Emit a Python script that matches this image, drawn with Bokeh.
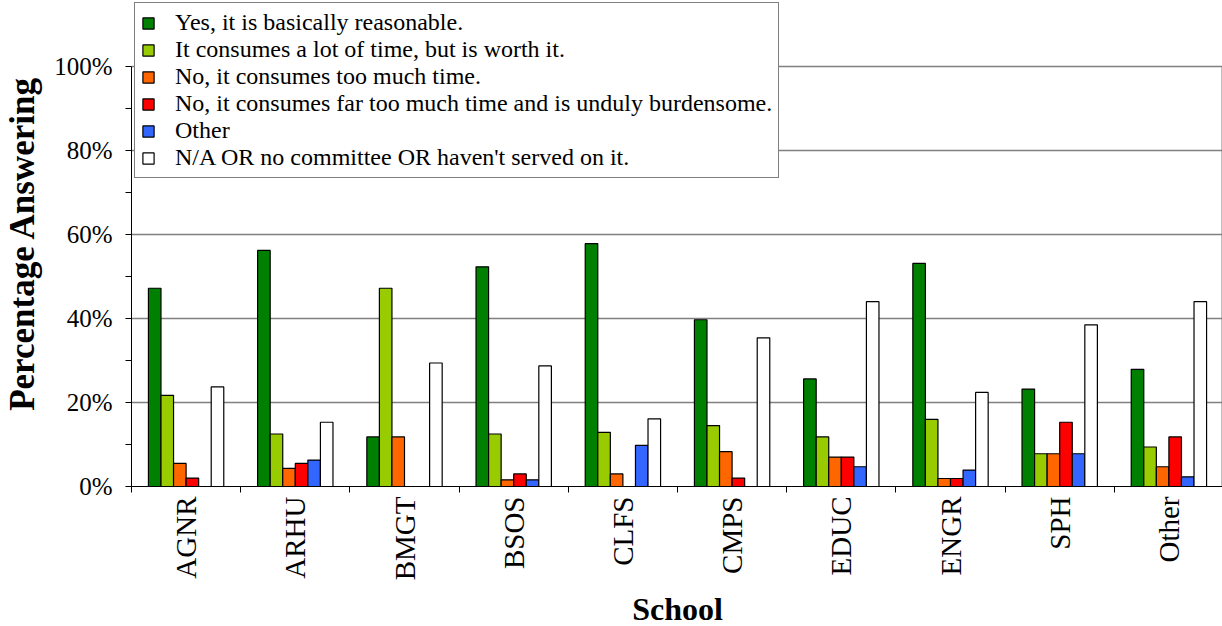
import math
from bokeh.plotting import figure
from bokeh.models import (Range1d, LinearAxis, FixedTicker, PrintfTickFormatter,
                          Legend, LegendItem, ColumnDataSource)
from bokeh.transform import dodge
from bokeh.embed import file_html
from bokeh.resources import INLINE

schools = ["AGNR", "ARHU", "BMGT", "BSOS", "CLFS", "CMPS", "EDUC", "ENGR", "SPH", "Other"]
reasonable = [47.2, 56.2, 11.8, 52.3, 57.8, 39.7, 25.6, 53.1, 23.2, 27.9]
worth_it = [21.7, 12.5, 47.2, 12.5, 12.9, 14.5, 11.8, 16.0, 7.8, 9.4]
too_much = [5.5, 4.3, 11.8, 1.6, 3.0, 8.3, 7.0, 1.9, 7.8, 4.7]
far_too_much = [2.0, 5.5, 0.0, 3.0, 0.0, 2.0, 7.0, 1.9, 15.3, 11.8]
other_answer = [0.0, 6.3, 0.0, 1.6, 9.8, 0.0, 4.7, 3.9, 7.8, 2.3]
not_applicable = [23.7, 15.3, 29.4, 28.7, 16.1, 35.4, 44.0, 22.4, 38.5, 44.0]

series_labels = [
    "Yes, it is basically reasonable.",
    "It consumes a lot of time, but is worth it.",
    "No, it consumes too much time.",
    "No, it consumes far too much time and is unduly burdensome.",
    "Other",
    "N/A OR no committee OR haven't served on it.",
]
series_keys = ["reasonable", "worth_it", "too_much", "far_too_much", "other_answer", "not_applicable"]
colors = ["#008000", "#99CC00", "#FF6600", "#FF0000", "#3366FF", "#FFFFFF"]
y_ticks = [0, 20, 40, 60, 80, 100]
y_minor = [10, 30, 50, 70, 90]

n = len(schools)
centers = [i + 0.5 for i in range(n)]          # category slots on the x scale
boundaries = list(range(n + 1))                # tick marks between categories

source = ColumnDataSource(data=dict(
    school=schools, pos=centers, reasonable=reasonable, worth_it=worth_it, too_much=too_much,
    far_too_much=far_too_much, other_answer=other_answer, not_applicable=not_applicable,
))

FONT = "Liberation Serif"
y_top = 115.7   # headroom above 100% so the legend can sit above the plot box

p = figure(x_range=Range1d(0, n), y_range=Range1d(0, y_top),
           frame_width=1092, frame_height=486, min_border_left=128, min_border_right=2,
           min_border_top=0, min_border_bottom=0,
           output_backend="svg", toolbar_location=None, x_axis_location=None)

bar_w = 0.115
renderers = []
for i, (key, col) in enumerate(zip(series_keys, colors)):
    r = p.vbar(x=dodge("pos", (i - 2.5) * bar_w), top=key, width=bar_w,
               source=source, fill_color=col, line_color="#000000", line_width=1.2)
    renderers.append(r)

# right border of the plot box
p.segment(x0=[boundaries[-1]], y0=[y_ticks[0]], x1=[boundaries[-1]], y1=[y_ticks[-1]],
          line_color="#808080", line_width=4)

# tick marks between categories
tick_axis = LinearAxis(ticker=FixedTicker(ticks=boundaries),
                       major_label_overrides={b: "" for b in boundaries},
                       major_label_text_font_size="1px", major_label_standoff=0,
                       major_tick_out=6, major_tick_in=0, minor_tick_out=0, minor_tick_in=0,
                       axis_line_color="#000000", major_tick_line_color="#000000")
p.add_layout(tick_axis, "below")

# category labels
cat_axis = LinearAxis(ticker=FixedTicker(ticks=centers),
                      major_label_overrides={c: s for c, s in zip(centers, schools)},
                      axis_line_color=None, major_tick_line_color=None, major_tick_out=0, major_tick_in=0,
                      minor_tick_line_color=None,
                      major_label_orientation=math.pi / 2, major_label_standoff=4,
                      major_label_text_font=FONT, major_label_text_font_size="29px",
                      major_label_text_color="#000000",
                      axis_label="School", axis_label_text_font=FONT,
                      axis_label_text_font_size="32px", axis_label_text_font_style="bold",
                      axis_label_text_color="#000000", axis_label_standoff=8)
p.add_layout(cat_axis, "below")

ya = p.yaxis[0]
ya.bounds = (y_ticks[0], y_ticks[-1])
ya.ticker = FixedTicker(ticks=y_ticks, minor_ticks=y_minor)
ya.formatter = PrintfTickFormatter(format="%d%%")
ya.major_tick_out = 6
ya.major_tick_in = 0
ya.minor_tick_out = 6
ya.minor_tick_in = 0
ya.axis_line_color = "#000000"
ya.major_tick_line_color = "#000000"
ya.minor_tick_line_color = "#000000"
ya.major_label_text_font = FONT
ya.major_label_text_font_size = "25px"
ya.major_label_text_color = "#000000"
ya.major_label_standoff = 13
ya.axis_label = "Percentage Answering"
ya.axis_label_text_font = FONT
ya.axis_label_text_font_size = "35px"
ya.axis_label_text_font_style = "bold"
ya.axis_label_text_color = "#000000"
ya.axis_label_standoff = 9

p.ygrid.ticker = FixedTicker(ticks=y_ticks)
p.ygrid.grid_line_color = "#808080"
p.ygrid.grid_line_width = 1.5
p.xgrid.grid_line_color = None
p.outline_line_color = None

legend = Legend(items=[LegendItem(label=lab, renderers=[r]) for lab, r in zip(series_labels, renderers)],
                location=(3, 308), label_text_font="Times", label_text_font_size="24px",
                label_text_color="#000000", glyph_width=14, glyph_height=14, label_height=20,
                spacing=0, padding=6, margin=0, label_standoff=20,
                border_line_color="#000000", border_line_width=1, background_fill_alpha=1.0)
p.add_layout(legend)

open("out.html", "w").write(file_html(p, INLINE))
